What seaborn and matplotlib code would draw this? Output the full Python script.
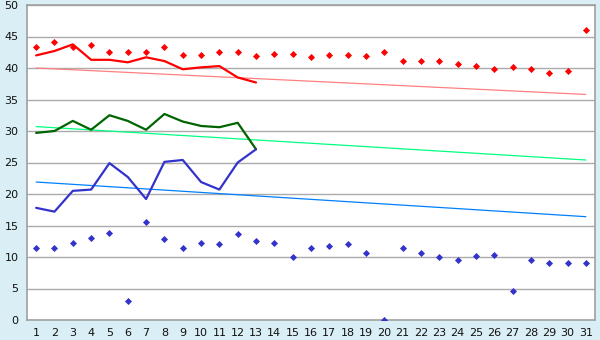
import numpy as np
import pandas as pd
import matplotlib
matplotlib.use("Agg")
import matplotlib.pyplot as plt
import seaborn as sns

days = list(range(1, 32))
day_labels = [str(d) for d in days]

red_points = [43.3, 44.05, 43.3, 43.6, 42.6, 42.5, 42.6, 43.3, 42.0, 42.0,
              42.5, 42.5, 41.85, 42.2, 42.2, 41.7, 42.0, 42.0, 41.85, 42.5,
              41.05, 41.05, 41.05, 40.6, 40.3, 39.8, 40.1, 39.8, 39.15, 39.6, 46.1]
blue_points = [11.5, 11.5, 12.3, 13.0, 13.8, 2.97, 15.5, 12.8, 11.5, 12.2,
               12.0, 13.6, 12.5, 12.2, 9.95, 11.4, 11.7, 12.0, 10.6, 0.0,
               11.5, 10.6, 9.95, 9.5, 10.1, 10.3, 4.55, 9.5, 9.0, 9.0, 9.0]

line_days = list(range(1, 14))
red_line = [42.0, 42.7, 43.75, 41.3, 41.3, 40.9, 41.7, 41.1, 39.8, 40.1, 40.3, 38.5, 37.7]
green_line = [29.7, 30.0, 31.6, 30.2, 32.5, 31.6, 30.2, 32.7, 31.5, 30.8, 30.6, 31.3, 27.1]
blue_line = [17.8, 17.2, 20.5, 20.7, 24.9, 22.7, 19.2, 25.1, 25.4, 21.9, 20.7, 25.0, 27.1]

trend_days = [1, 31]
red_trend = [40.0, 35.8]
green_trend = [30.7, 25.4]
blue_trend = [21.9, 16.4]

y_ticks = [0, 5, 10, 15, 20, 25, 30, 35, 40, 45, 50]

sns.set_style("white")
plt.rcParams['font.family'] = ['DejaVu Sans']

fig = plt.figure(figsize=(6, 3.4), dpi=100)
fig.patch.set_facecolor('#DAEEF5')
ax = fig.add_axes([27/600, 20/340, 568/600, 315/340])
ax.set_facecolor('white')

for y in y_ticks[1:]:
    ax.axhline(y, color='#ABABAB', lw=1.0, zorder=0)

df_t = pd.DataFrame({'x': trend_days, 'r': red_trend, 'g': green_trend, 'b': blue_trend})
sns.lineplot(data=df_t, x='x', y='r', ax=ax, color='#FF8080', lw=0.9, zorder=2)
sns.lineplot(data=df_t, x='x', y='g', ax=ax, color='#00FF80', lw=0.9, zorder=2)
sns.lineplot(data=df_t, x='x', y='b', ax=ax, color='#0080FF', lw=0.9, zorder=2)

df_l = pd.DataFrame({'x': line_days, 'r': red_line, 'g': green_line, 'b': blue_line})
sns.lineplot(data=df_l, x='x', y='r', ax=ax, color='#FF0000', lw=1.6, zorder=3)
sns.lineplot(data=df_l, x='x', y='g', ax=ax, color='#006400', lw=1.6, zorder=3)
sns.lineplot(data=df_l, x='x', y='b', ax=ax, color='#3333CC', lw=1.6, zorder=3)

df_p = pd.DataFrame({'x': days, 'r': red_points, 'b': blue_points})
sns.scatterplot(data=df_p, x='x', y='r', ax=ax, color='#FF0000', marker='D', s=13,
                linewidth=0, zorder=4)
sns.scatterplot(data=df_p, x='x', y='b', ax=ax, color='#3333CC', marker='D', s=13,
                linewidth=0, zorder=4)

ax.set_xlim(0.5, 31.5)
ax.set_ylim(0, 50)
ax.set_xticks(days)
ax.set_xticklabels(day_labels)
ax.set_yticks(y_ticks)
ax.set_xlabel('')
ax.set_ylabel('')
for s in ['left', 'bottom', 'right', 'top']:
    ax.spines[s].set_color('#A0A0A0')
    ax.spines[s].set_linewidth(1.2)
ax.tick_params(axis='both', which='both', length=4, width=1, color='black',
               labelsize=8, labelcolor='#111111', pad=2, direction='out')

fig.savefig('out.png', dpi=100, facecolor=fig.get_facecolor())
